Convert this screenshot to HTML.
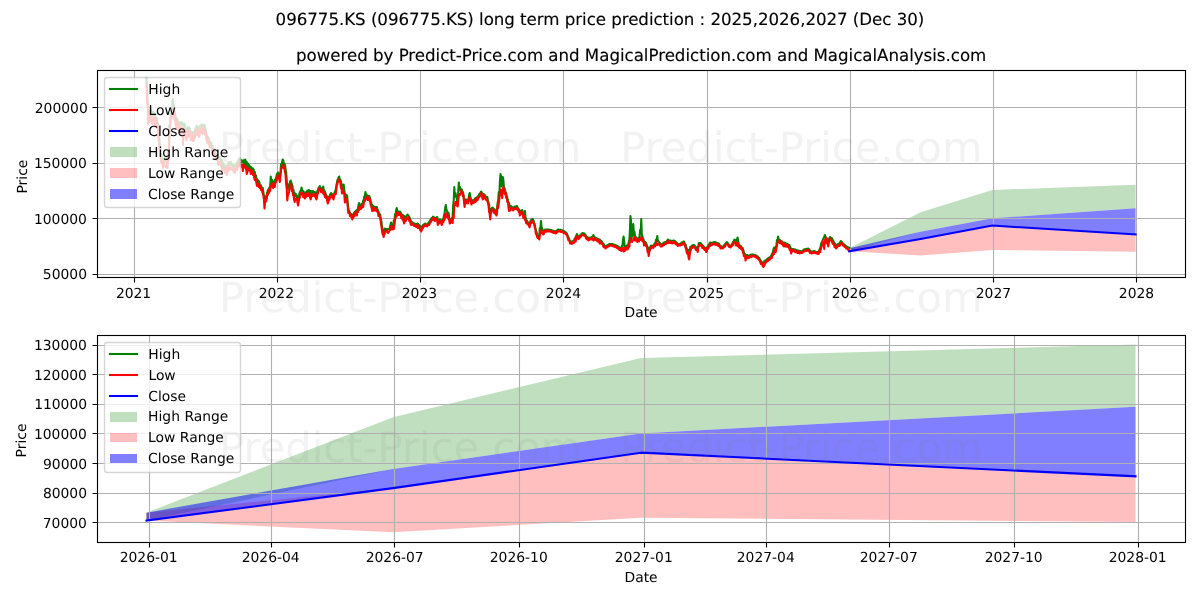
<!DOCTYPE html>
<html lang="en"><head><meta charset="utf-8"><title>096775.KS long term price prediction</title>
<style>html,body{margin:0;padding:0;background:#fff}body{width:1200px;height:600px;overflow:hidden}svg text{font-family:'DejaVu Sans', 'Liberation Sans', sans-serif;white-space:pre;text-rendering:geometricPrecision}</style>
</head><body>
<svg width="1200" height="600" viewBox="0 0 1200 600" font-family="'DejaVu Sans', 'Liberation Sans', sans-serif" style="display:block"><rect width="1200" height="600" fill="#fff"/>
<clipPath id="c1"><rect x="97.03" y="70.33" width="1087.97" height="206.56"/></clipPath>
<g clip-path="url(#c1)">
<path d="M849.26 248.18 L849.26 251.18 L920.63 231.71 L992.4 218.35 L1135.55 208.33 L1135.55 184.87 L1135.55 184.87 L992.4 189.97 L920.63 212.23 L849.26 248.18Z" fill="#008000" fill-opacity="0.25"/>
<path d="M849.26 248.18 L849.26 251.18 L920.63 255.59 L992.4 250.07 L1135.55 251.74 L1135.55 234.49 L1135.55 234.49 L992.4 225.58 L920.63 238.94 L849.26 248.18Z" fill="#ff0000" fill-opacity="0.25"/>
<path d="M849.26 248.18 L849.26 251.18 L920.63 238.94 L992.4 225.58 L1135.55 234.49 L1135.55 208.33 L1135.55 208.33 L992.4 218.35 L920.63 231.71 L849.26 248.18Z" fill="#0000ff" fill-opacity="0.5"/>
<path d="M134.5 70.33V276.89M277.5 70.33V276.89M420.5 70.33V276.89M563.5 70.33V276.89M707.5 70.33V276.89M850.5 70.33V276.89M993.5 70.33V276.89M1136.5 70.33V276.89M97.03 274.5H1185M97.03 218.5H1185M97.03 163.5H1185M97.03 107.5H1185" stroke="#b0b0b0" stroke-width="1.11" fill="none"/>
<path d="M146.5 78 L147.07 90 L147.64 99.34 L148.21 112 L148.78 112.05 L149.35 114 L149.92 112.1 L150.49 110 L151.06 109.85 L151.63 117.08 L152.2 114 L152.77 114.85 L153.34 112 L153.91 115.44 L154.48 112.77 L155.05 116 L155.62 116.11 L156.19 120.12 L156.76 118 L157.33 123.77 L157.9 122.92 L158.47 128 L159.04 135.14 L159.61 144.03 L160.18 145 L160.75 153.77 L161.32 155 L161.89 156.94 L162.46 158.11 L163.03 160 L163.6 158.78 L164.17 161.07 L164.74 158 L165.31 160.69 L165.88 160 L166.45 162.52 L167.02 156.67 L167.59 158 L168.16 151.31 L168.73 150 L169.3 125 L169.87 126.28 L170.44 114 L171.01 112.69 L171.58 110 L172.15 106.51 L172.72 99 L173.29 107.78 L173.86 105.06 L174.43 112 L175 112.26 L175.57 118.12 L176.14 118 L176.71 122.87 L177.28 119.02 L177.85 122 L178.42 121.92 L178.99 124.64 L179.56 124.5 L180.13 124 L180.7 122.22 L181.27 124.8 L181.84 122 L182.41 125.77 L182.98 126 L183.55 131.06 L184.12 123.32 L184.69 124 L185.26 128.26 L185.83 130.01 L186.4 130 L186.97 132.05 L187.54 127.27 L188.11 132.58 L188.68 127.22 L189.25 128 L189.82 128.57 L190.39 132.6 L190.96 132 L191.53 134.62 L192.1 131.93 L192.67 136.27 L193.24 133 L193.81 135.42 L194.38 131.96 L194.95 130 L195.52 128.28 L196.09 129.1 L196.66 125.52 L197.23 127 L197.8 127.06 L198.37 129.75 L198.94 128 L199.51 128.88 L200.08 125.6 L200.65 125.83 L201.22 125 L201.79 126.98 L202.36 124.38 L202.93 126 L203.5 125.97 L204.07 125.34 L204.64 125 L205.21 130.76 L205.78 129.42 L206.35 134 L206.92 136.43 L207.49 137.91 L208.06 136.91 L208.63 138 L209.2 141.12 L209.77 143.29 L210.34 142 L210.91 142.44 L211.48 144.29 L212.05 147.23 L212.62 146 L213.19 150.24 L213.76 148.91 L214.33 150 L214.9 149.99 L215.47 155.07 L216.04 155 L216.61 154 L217.18 154.52 L217.75 157.37 L218.32 159 L218.89 158.28 L219.46 159.28 L220.03 157 L220.6 159.12 L221.17 162.15 L221.74 160 L222.31 165.07 L222.88 163 L223.45 165.92 L224.02 164.21 L224.59 168.37 L225.16 166 L225.73 167.83 L226.3 166.62 L226.87 168 L227.44 165.09 L228.01 166.91 L228.58 162.06 L229.15 163 L229.72 164.51 L230.29 164.3 L230.86 162 L231.43 165.48 L232 164.98 L232.57 165.84 L233.14 164 L233.71 167.31 L234.28 166.44 L234.85 166 L235.42 165.25 L235.99 165.31 L236.56 162.85 L237.13 163 L237.7 161.62 L238.27 162.32 L238.84 159 L239.41 159.92 L239.98 157.98 L240.55 161.05 L241.12 160 L241.69 162.19 L242.26 160.7 L242.83 160.5 L243.4 160.51 L243.97 165.39 L244.54 160 L245.11 159.5 L245.68 160.65 L246.25 167.67 L246.82 162 L247.39 167.09 L247.96 163.49 L248.53 166.87 L249.1 165 L249.67 168.06 L250.24 166.52 L250.81 167 L251.38 167.51 L251.95 170.94 L252.52 168.48 L253.09 168.5 L253.66 169.96 L254.23 174.41 L254.8 172 L255.37 176.84 L255.94 175.48 L256.51 180.87 L257.08 179 L257.65 182.11 L258.22 180.45 L258.79 181 L259.36 182.19 L259.93 184.87 L260.5 184.83 L261.07 186 L261.64 186.97 L262.21 188 L262.78 188 L263.35 192.3 L263.92 195.64 L264.49 200 L265.06 198.89 L265.63 199.01 L266.2 196 L266.77 194.82 L267.34 192.17 L267.91 190 L268.48 189.32 L269.05 188.98 L269.62 187.12 L270.19 186 L270.76 176.5 L271.33 183.1 L271.9 179.74 L272.47 183.78 L273.04 183 L273.61 184.49 L274.18 181.48 L274.75 180 L275.32 179.28 L275.89 179.17 L276.46 176.01 L277.03 174 L277.6 173.14 L278.17 172.5 L278.74 174.68 L279.31 176.28 L279.88 178 L280.45 173.14 L281.02 164 L281.59 165.43 L282.16 161.69 L282.73 159.5 L283.3 160.53 L283.87 165.88 L284.44 163.5 L285.01 165 L285.58 169.35 L286.15 172 L286.72 179.88 L287.29 188 L287.86 187.04 L288.43 189.21 L289 184 L289.57 185.68 L290.14 181.48 L290.71 180.5 L291.28 182.38 L291.85 184 L292.42 185.73 L292.99 190.83 L293.56 189.97 L294.13 197.05 L294.7 193 L295.27 196.04 L295.84 194 L296.41 196.91 L296.98 195.74 L297.55 200.11 L298.12 197 L298.69 199.59 L299.26 194.16 L299.83 192 L300.4 191.02 L300.97 190.96 L301.54 187.5 L302.11 190.62 L302.68 190.56 L303.25 191 L303.82 191.98 L304.39 194.34 L304.96 193 L305.53 194.25 L306.1 191.97 L306.67 192.68 L307.24 190.5 L307.81 192.32 L308.38 190.5 L308.95 190 L309.52 190.48 L310.09 194.27 L310.66 191 L311.23 194.55 L311.8 191.23 L312.37 193.41 L312.94 191 L313.51 192.49 L314.08 191.8 L314.65 193.36 L315.22 192.27 L315.79 194.1 L316.36 192.5 L316.93 194.79 L317.5 190.7 L318.07 190.01 L318.64 187.9 L319.21 186.99 L319.78 186 L320.35 187.79 L320.92 189 L321.49 188.7 L322.06 188.07 L322.63 189.53 L323.2 186.5 L323.77 190.76 L324.34 190.41 L324.91 192 L325.48 193.11 L326.05 195.15 L326.62 195.59 L327.19 197.51 L327.76 198 L328.33 199.07 L328.9 196.63 L329.47 196.94 L330.04 194.72 L330.61 193.72 L331.18 193 L331.75 193.88 L332.32 194.26 L332.89 195.51 L333.46 195 L334.03 194.51 L334.6 192.32 L335.17 191.02 L335.74 190 L336.31 186.28 L336.88 183.28 L337.45 180 L338.02 178.85 L338.59 177.47 L339.16 176.5 L339.73 179.29 L340.3 179.62 L340.87 181 L341.44 183.38 L342.01 186 L342.58 185.89 L343.15 188.76 L343.72 184.5 L344.29 190.12 L344.86 194 L345.43 198.63 L346 194.79 L346.57 197.97 L347.14 195.5 L347.71 202.54 L348.28 208 L348.85 210.1 L349.42 211.3 L349.99 213 L350.56 213.73 L351.13 213.96 L351.7 214.55 L352.27 215 L352.84 214.68 L353.41 214.64 L353.98 212.81 L354.55 212 L355.12 211.59 L355.69 211.16 L356.26 210.5 L356.83 211 L357.4 209.45 L357.97 208.54 L358.54 205.04 L359.11 203 L359.68 204.05 L360.25 206.12 L360.82 206 L361.39 205.39 L361.96 203.8 L362.53 203.87 L363.1 201 L363.67 200.36 L364.24 196.6 L364.81 197.33 L365.38 192 L365.95 194.9 L366.52 194.32 L367.09 196.09 L367.66 196 L368.23 196.26 L368.8 196.21 L369.37 196 L369.94 198.04 L370.51 200.37 L371.08 202 L371.65 204.68 L372.22 205 L372.79 206.67 L373.36 205.91 L373.93 207.43 L374.5 206.99 L375.07 207 L375.64 207.24 L376.21 207.29 L376.78 207 L377.35 209.16 L377.92 210.19 L378.49 212 L379.06 213.18 L379.63 214.25 L380.2 214.5 L380.77 218.51 L381.34 221 L381.91 225.48 L382.48 230 L383.05 232.17 L383.62 232 L384.19 231.67 L384.76 228.5 L385.33 229.4 L385.9 229.07 L386.47 229 L387.04 229.22 L387.61 229.01 L388.18 229 L388.75 229.04 L389.32 229 L389.89 227.71 L390.46 224.97 L391.03 222.5 L391.6 224.6 L392.17 226.2 L392.74 227 L393.31 224.79 L393.88 220 L394.45 221.64 L395.02 214 L395.59 215.42 L396.16 209.73 L396.73 208 L397.3 210.39 L397.87 212 L398.44 212.16 L399.01 211.8 L399.58 211.7 L400.15 211.5 L400.72 213.04 L401.29 214 L401.86 214.42 L402.43 216.19 L403 215.26 L403.57 217.87 L404.14 216 L404.71 218.03 L405.28 216.88 L405.85 217 L406.42 216.36 L406.99 215.4 L407.56 214.5 L408.13 215.45 L408.7 216.06 L409.27 217 L409.84 218.07 L410.41 219.76 L410.98 221 L411.55 221.95 L412.12 222.13 L412.69 222.5 L413.26 222.88 L413.83 223.16 L414.4 223.5 L414.97 223.78 L415.54 224.07 L416.11 224 L416.68 224 L417.25 223.83 L417.82 223.5 L418.39 224.78 L418.96 224.81 L419.53 225.48 L420.1 226 L420.67 227.35 L421.24 227 L421.81 226.84 L422.38 226.21 L422.95 225 L423.52 224.95 L424.09 224.22 L424.66 224.07 L425.23 223.5 L425.8 223.9 L426.37 224.18 L426.94 224.5 L427.51 223.86 L428.08 223.27 L428.65 222.74 L429.22 222 L429.79 220.91 L430.36 220.12 L430.93 219 L431.5 218.4 L432.07 217.79 L432.64 217.24 L433.21 216.5 L433.78 217.26 L434.35 217.57 L434.92 218 L435.49 217.92 L436.06 217.75 L436.63 217.29 L437.2 217 L437.77 220 L438.34 220.1 L438.91 220.07 L439.48 219.75 L440.05 219.5 L440.62 220.11 L441.19 220.39 L441.76 221 L442.33 220.54 L442.9 219.56 L443.47 218 L444.04 215.38 L444.61 213 L445.18 207.92 L445.75 205 L446.32 208.5 L446.89 211 L447.46 211.77 L448.03 215.09 L448.61 213 L449.18 217.35 L449.75 220 L450.32 219.9 L450.89 219.3 L451.46 219.92 L452.03 217.79 L452.6 217 L453.17 205.91 L453.74 200 L454.31 187 L454.88 196.8 L455.45 192.94 L456.02 196 L456.59 197.82 L457.16 201.68 L457.73 200 L458.3 190 L458.87 182.5 L459.44 189.4 L460.01 187 L460.58 190.89 L461.15 189.15 L461.72 189.5 L462.29 190.94 L462.86 192 L463.43 194.3 L464 199.48 L464.57 199 L465.14 201.63 L465.71 199.66 L466.28 199.5 L466.85 199.99 L467.42 200.18 L467.99 200 L468.56 198.61 L469.13 194.78 L469.7 193 L470.27 195.98 L470.84 199.32 L471.41 200 L471.98 200.26 L472.55 200.18 L473.12 200.31 L473.69 200 L474.26 199.5 L474.83 198.83 L475.4 198 L475.97 197.93 L476.54 197.56 L477.11 197.34 L477.68 197 L478.25 195.92 L478.82 195.38 L479.39 194 L479.96 193.37 L480.53 192.54 L481.1 191.5 L481.67 192.4 L482.24 194.09 L482.81 193.5 L483.38 195.75 L483.95 194.4 L484.52 194.5 L485.09 195.47 L485.66 196.54 L486.23 197 L486.8 197.33 L487.37 197 L487.94 200.7 L488.51 202.36 L489.08 205 L489.65 209.64 L490.22 212 L490.79 209 L491.36 209.82 L491.93 208.16 L492.5 207.5 L493.07 208.17 L493.64 209.01 L494.21 209 L494.78 209.75 L495.35 210.31 L495.92 211.64 L496.49 211 L497.06 209.01 L497.63 202.95 L498.2 200 L498.77 192 L499.34 194.99 L499.91 181.49 L500.48 174 L501.05 175.95 L501.62 186.52 L502.19 179 L502.76 177 L503.33 179.49 L503.9 187.28 L504.47 188 L505.04 190.76 L505.61 191.97 L506.18 193 L506.75 195.67 L507.32 198 L507.89 199.55 L508.46 202.95 L509.03 203 L509.6 207.39 L510.17 206 L510.74 206 L511.31 206.62 L511.88 206.96 L512.45 207.78 L513.02 208 L513.59 207.56 L514.16 207.14 L514.73 206.5 L515.3 206.45 L515.87 206.66 L516.44 206.23 L517.01 206 L517.58 207.52 L518.15 208.62 L518.72 209 L519.29 210.42 L519.86 211 L520.43 210.89 L521 211.52 L521.57 210.45 L522.14 210 L522.71 211.57 L523.28 213 L523.85 212.78 L524.42 215.24 L524.99 211 L525.56 217.69 L526.13 219 L526.7 220.51 L527.27 221.5 L527.84 222.16 L528.41 222.88 L528.98 223.58 L529.55 224 L530.12 222.27 L530.69 220.46 L531.26 219.5 L531.83 219.62 L532.4 219.26 L532.97 219 L533.54 220.89 L534.11 222.69 L534.68 224 L535.25 227.36 L535.82 230 L536.39 231.65 L536.96 234.03 L537.53 236 L538.1 236.09 L538.67 236.15 L539.24 236 L539.81 228 L540.38 229.39 L540.95 221 L541.52 227.06 L542.09 228 L542.66 229.96 L543.23 231 L543.8 231.09 L544.37 230.51 L544.94 229.5 L545.51 229.5 L546.08 229.5 L546.65 229.5 L547.22 229.5 L547.79 229.5 L548.36 229.56 L548.93 229.65 L549.5 229.75 L550.07 229.84 L550.64 229.94 L551.21 230 L551.78 230.26 L552.35 230.45 L552.92 230.64 L553.49 230.83 L554.06 231 L554.63 231.15 L555.2 231.3 L555.77 231.5 L556.34 231.17 L556.91 230.6 L557.48 230.03 L558.05 229.5 L558.62 229.6 L559.19 229.7 L559.76 229.79 L560.33 229.89 L560.9 230 L561.47 230.15 L562.04 230.34 L562.61 230.53 L563.18 230.72 L563.75 231 L564.32 231.25 L564.89 231.7 L565.46 232.16 L566.03 232.62 L566.6 233 L567.17 234.32 L567.74 235.78 L568.31 237 L568.88 238.29 L569.45 239.51 L570.02 241 L570.59 241.29 L571.16 241.57 L571.73 242 L572.3 241.71 L572.87 241.14 L573.44 240.8 L574.01 240 L574.58 239.01 L575.15 238.03 L575.72 237 L576.29 235.79 L576.86 234 L577.43 235.22 L578 236.32 L578.57 237 L579.14 236.37 L579.71 235.8 L580.28 235 L580.85 234.66 L581.42 234.09 L581.99 233.52 L582.56 233 L583.13 233.15 L583.7 233.3 L584.27 233.5 L584.84 233.99 L585.41 234.85 L585.98 235.7 L586.55 236.5 L587.12 236.96 L587.69 237.38 L588.26 238 L588.83 237.94 L589.4 237.82 L589.97 237.71 L590.54 237.59 L591.11 237.5 L591.68 237.12 L592.25 236.65 L592.82 236.59 L593.39 235 L593.96 236.56 L594.53 236.92 L595.1 237.56 L595.67 238 L596.24 238.18 L596.81 238.68 L597.38 238.5 L597.95 238.99 L598.52 239.17 L599.09 239.4 L599.66 239.5 L600.23 240.21 L600.8 240.67 L601.37 241 L601.94 241.87 L602.51 242.73 L603.08 243.54 L603.65 244 L604.22 245 L604.79 245.6 L605.36 246.5 L605.93 246.18 L606.5 245.76 L607.07 245.33 L607.64 245 L608.21 244.65 L608.78 244.36 L609.35 244 L609.92 244 L610.49 244 L611.06 244 L611.63 244 L612.2 244 L612.77 244.25 L613.34 244.44 L613.91 244.63 L614.48 244.82 L615.05 245 L615.62 245.24 L616.19 245.47 L616.76 245.7 L617.33 246 L617.9 246.29 L618.47 246.72 L619.04 247.15 L619.61 247.5 L620.18 247.98 L620.75 248.02 L621.32 248 L621.89 245.87 L622.46 245.96 L623.03 239.5 L623.6 236.5 L624.17 241.33 L624.74 247 L625.31 247.11 L625.88 246.6 L626.45 245.89 L627.02 246.23 L627.59 245 L628.16 245.48 L628.73 242.28 L629.3 240 L629.87 231.62 L630.44 216 L631.01 220.71 L631.58 238.6 L632.15 230 L632.72 236.13 L633.29 224 L633.86 233.58 L634.43 231.65 L635 236 L635.57 236.91 L636.14 237.41 L636.71 238.13 L637.28 238.5 L637.85 238.6 L638.42 238.21 L638.99 238 L639.56 236.09 L640.13 230 L640.7 232.13 L641.27 219 L641.84 235.08 L642.41 236 L642.98 238.62 L643.55 239.57 L644.12 241 L644.69 241.82 L645.26 241.98 L645.83 242.5 L646.4 243.86 L646.97 245.69 L647.54 247 L648.11 249.44 L648.68 251 L649.25 248 L649.82 247.66 L650.39 246.87 L650.96 245.5 L651.53 245.72 L652.1 245.79 L652.67 245.89 L653.24 245.5 L653.81 244.79 L654.38 243.92 L654.95 243 L655.52 242.85 L656.09 239.53 L656.66 241.89 L657.23 236 L657.8 240.66 L658.37 241 L658.94 241.76 L659.51 242.55 L660.08 243.49 L660.65 244 L661.22 244.24 L661.79 244.5 L662.36 244.15 L662.93 243.58 L663.5 243.01 L664.07 242.5 L664.64 242.34 L665.21 242.2 L665.78 242 L666.35 241.57 L666.92 240.96 L667.49 240.19 L668.06 239.5 L668.63 240.13 L669.2 240.4 L669.77 240.5 L670.34 240.58 L670.91 240.72 L671.48 240.87 L672.05 241 L672.62 240.85 L673.19 240.7 L673.76 240.5 L674.33 240.74 L674.9 241.17 L675.47 241.59 L676.04 242 L676.61 242.6 L677.18 243.17 L677.75 244 L678.32 244 L678.89 244 L679.46 244 L680.03 244 L680.6 243.56 L681.17 243.13 L681.74 242.5 L682.31 242.35 L682.88 242.06 L683.45 241.78 L684.02 241.5 L684.59 243.09 L685.16 244.27 L685.73 245 L686.3 247.4 L686.87 249 L687.44 251.13 L688.01 249.9 L688.58 250 L689.15 251 L689.72 251.59 L690.29 247 L690.86 246.81 L691.43 246.31 L692 245.5 L692.57 245.36 L693.14 245.22 L693.71 245.07 L694.28 245 L694.85 245.93 L695.42 246.66 L695.99 247 L696.56 248.13 L697.13 248.89 L697.7 249 L698.27 246.32 L698.84 243 L699.41 243.08 L699.98 243.15 L700.55 243 L701.12 243.7 L701.69 244.39 L702.26 245 L702.83 245.58 L703.4 246.19 L703.97 247.04 L704.54 247.5 L705.11 247.79 L705.68 248.07 L706.25 248 L706.82 247.84 L707.39 246.91 L707.96 246.19 L708.53 245 L709.1 244.28 L709.67 243.23 L710.24 242.5 L710.81 242.83 L711.38 242.84 L711.95 243 L712.52 242.74 L713.09 242.46 L713.66 242.17 L714.23 242 L714.8 242.2 L715.37 242.34 L715.94 242.5 L716.51 242.7 L717.08 242.93 L717.65 243.16 L718.22 243.38 L718.79 243.5 L719.36 244.56 L719.93 245.27 L720.5 246 L721.07 246.22 L721.64 246.45 L722.21 246.68 L722.78 247 L723.35 246.49 L723.92 245.63 L724.49 244.78 L725.06 244 L725.63 243.38 L726.2 242.81 L726.77 242 L727.34 242.49 L727.91 243.35 L728.48 244.2 L729.05 245 L729.62 245.3 L730.19 245.59 L730.76 246 L731.33 245.36 L731.9 244.22 L732.47 243.16 L733.04 242 L733.61 241.26 L734.18 240.06 L734.75 239.5 L735.32 241.19 L735.89 242 L736.46 241.61 L737.03 239.2 L737.6 237.5 L738.17 240.9 L738.74 245 L739.31 245.29 L739.88 245.47 L740.45 246.02 L741.02 246 L741.59 247.08 L742.16 247.79 L742.73 248 L743.3 250.41 L743.87 252 L744.44 253.97 L745.01 254.03 L745.58 255 L746.15 255.18 L746.72 255.21 L747.29 255 L747.86 255.72 L748.43 255.71 L749 256 L749.57 255.58 L750.14 255.15 L750.71 254.72 L751.28 254.5 L751.85 254.5 L752.42 254.5 L752.99 254.5 L753.56 254.64 L754.13 254.78 L754.7 254.92 L755.27 255 L755.84 255.41 L756.41 255.7 L756.98 256 L757.55 256.54 L758.12 257.11 L758.69 257.68 L759.26 258 L759.83 259.36 L760.4 260.25 L760.97 261 L761.54 261.6 L762.11 262.44 L762.68 263 L763.25 263 L763.82 262.92 L764.39 261 L764.96 260.75 L765.53 260.63 L766.1 260 L766.67 259.5 L767.24 259.08 L767.81 258.5 L768.38 258.22 L768.95 257.79 L769.52 257.37 L770.09 257 L770.66 256.54 L771.23 255.7 L771.8 254.5 L772.37 253.28 L772.94 252.24 L773.51 249.26 L774.08 247.5 L774.65 247.49 L775.22 248.72 L775.79 247 L776.36 246.07 L776.93 240 L777.5 240.36 L778.07 236.5 L778.64 239.2 L779.21 239.67 L779.78 240 L780.35 240.72 L780.92 241.08 L781.49 241 L782.06 241.74 L782.63 242.14 L783.2 242.42 L783.77 242.5 L784.34 242.75 L784.91 242.86 L785.48 243 L786.05 243.66 L786.62 243.73 L787.19 244 L787.76 244 L788.33 244.78 L788.9 244.8 L789.47 245 L790.04 246.74 L790.61 248.11 L791.18 249 L791.75 249.15 L792.32 249 L792.89 249.08 L793.46 249.19 L794.03 249.3 L794.6 249.42 L795.17 249.5 L795.74 249.79 L796.31 250.02 L796.88 250.25 L797.45 250.5 L798.02 250.6 L798.59 250.72 L799.16 250.83 L799.73 251 L800.3 251.07 L800.87 251.21 L801.44 251.36 L802.01 251.5 L802.58 250.93 L803.15 250.36 L803.72 249.79 L804.29 249.5 L804.86 249.29 L805.43 249.14 L806 249 L806.57 248.89 L807.14 248.77 L807.71 248.66 L808.28 248.5 L808.85 248.95 L809.42 249.71 L809.99 250.5 L810.56 251.05 L811.13 251.62 L811.7 252 L812.27 251.7 L812.84 251.47 L813.41 251.24 L813.98 251 L814.55 251.27 L815.12 251.55 L815.69 251.84 L816.26 252 L816.83 252 L817.4 252 L817.97 252 L818.54 252 L819.11 250.43 L819.68 249.17 L820.25 248 L820.82 245.55 L821.39 243 L821.96 242.73 L822.53 240.55 L823.1 239 L823.67 237.94 L824.24 237 L824.81 235 L825.38 236.71 L825.95 237.26 L826.52 238 L827.09 238.97 L827.66 241.17 L828.23 240 L828.8 240.02 L829.37 238.02 L829.94 237 L830.51 237.55 L831.08 238.09 L831.65 238 L832.22 239.14 L832.79 240 L833.36 240.98 L833.93 242.06 L834.5 243 L835.07 243.81 L835.64 244.73 L836.21 245 L836.78 244.85 L837.35 244.5 L837.92 244.21 L838.49 243.99 L839.06 243.37 L839.63 243 L840.2 242.39 L840.77 241 L841.34 241.44 L841.91 242.2 L842.48 243 L843.05 243.54 L843.62 244.11 L844.19 244.68 L844.76 245 L845.33 245.61 L845.9 246.04 L846.47 246.5 L847.04 246.76 L847.61 247.26 L848.18 247.37 L848.75 247.5 L849.38 248" stroke="#008000" stroke-width="2.08" fill="none" stroke-linejoin="round" stroke-linecap="square"/>
<path d="M146.5 84 L147.07 104 L147.64 104.19 L148.21 124 L148.78 117.05 L149.35 122 L149.92 115.19 L150.49 117 L151.06 112.24 L151.63 122.16 L152.2 124 L152.77 119.38 L153.34 118 L153.91 119.67 L154.48 115.25 L155.05 126 L155.62 118.99 L156.19 124.4 L156.76 128 L157.33 127.9 L157.9 127.03 L158.47 140 L159.04 138.67 L159.61 150.48 L160.18 155 L160.75 158.09 L161.32 163 L161.89 162.62 L162.46 161.67 L163.03 168 L163.6 161.33 L164.17 165.29 L164.74 166 L165.31 165.79 L165.88 167 L166.45 167.52 L167.02 160.32 L167.59 168 L168.16 154.91 L168.73 160 L169.3 140 L169.87 131.26 L170.44 122 L171.01 117.63 L171.58 118 L172.15 113.68 L172.72 114 L173.29 116.24 L173.86 107.79 L174.43 120 L175 114.92 L175.57 123.51 L176.14 126 L176.71 128.81 L177.28 121.71 L177.85 130 L178.42 124.28 L178.99 128.88 L179.56 128.45 L180.13 134 L180.7 126.64 L181.27 130.03 L181.84 130 L182.41 131.95 L182.98 145 L183.55 137.21 L184.12 128.33 L184.69 132 L185.26 132.99 L185.83 135.3 L186.4 140 L186.97 135.35 L187.54 129.88 L188.11 136.78 L188.68 130.78 L189.25 136 L189.82 130.81 L190.39 136.8 L190.96 140 L191.53 139.81 L192.1 134.34 L192.67 140.79 L193.24 141 L193.81 140.91 L194.38 136.06 L194.95 138 L195.52 131.21 L196.09 133.82 L196.66 129.05 L197.23 135 L197.8 130.96 L198.37 135.06 L198.94 137 L199.51 135.34 L200.08 128.29 L200.65 130.27 L201.22 133 L201.79 132.92 L202.36 126.59 L202.93 134 L203.5 128.39 L204.07 129.41 L204.64 132 L205.21 135.11 L205.78 132.06 L206.35 140 L206.92 140 L207.49 142.67 L208.06 138.91 L208.63 144 L209.2 144.15 L209.77 147.19 L210.34 147 L210.91 146.23 L211.48 147.38 L212.05 152.32 L212.62 152 L213.19 154.4 L213.76 151.76 L214.33 155 L214.9 152 L215.47 159.38 L216.04 157.72 L216.61 160 L217.18 157.46 L217.75 160.56 L218.32 165 L218.89 162.12 L219.46 163.33 L220.03 164 L220.6 161.78 L221.17 166.7 L221.74 167 L222.31 169.27 L222.88 170 L223.45 170.26 L224.02 167.71 L224.59 172.06 L225.16 173 L225.73 173.16 L226.3 169.53 L226.87 175 L227.44 166.83 L228.01 170.95 L228.58 165.08 L229.15 170 L229.72 167.1 L230.29 168.52 L230.86 168 L231.43 169.47 L232 167.55 L232.57 170.29 L233.14 170 L233.71 172.14 L234.28 169.05 L234.85 173 L235.42 168.36 L235.99 170.26 L236.56 166.48 L237.13 170 L237.7 163.78 L238.27 166.93 L238.84 166 L239.41 163.69 L239.98 160.72 L240.55 165.04 L241.12 165 L241.69 166.89 L242.26 164.81 L242.83 171 L243.4 166.59 L243.97 167.83 L244.54 165.19 L245.11 167 L245.68 166.32 L246.25 170.07 L246.82 174 L247.39 172.41 L247.96 168.33 L248.53 170.27 L249.1 170 L249.67 170.38 L250.24 169.51 L250.81 174 L251.38 170.46 L251.95 173.57 L252.52 171.29 L253.09 175 L253.66 173.94 L254.23 177.83 L254.8 180 L255.37 180.23 L255.94 179.15 L256.51 183.76 L257.08 186 L257.65 185.63 L258.22 183.9 L258.79 187 L259.36 184.45 L259.93 187.83 L260.5 186.52 L261.07 190 L261.64 188.36 L262.21 191.74 L262.78 193 L263.35 195.62 L263.92 199.45 L264.49 208.5 L265.06 202.62 L265.63 201.66 L266.2 201 L266.77 198.63 L267.34 193.57 L267.91 195 L268.48 190.1 L269.05 192.88 L269.62 188.91 L270.19 191 L270.76 186 L271.33 185.19 L271.9 183.33 L272.47 186.41 L273.04 188 L273.61 186.42 L274.18 184.66 L274.75 187 L275.32 182.5 L275.89 182.63 L276.46 178.85 L277.03 180 L277.6 175.08 L278.17 177 L278.74 176.3 L279.31 179.27 L279.88 182 L280.45 176.01 L281.02 170 L281.59 168.43 L282.16 165.14 L282.73 167 L283.3 164.94 L283.87 168.36 L284.44 167.85 L285.01 172 L285.58 175.1 L286.15 184 L286.72 188.35 L287.29 200.5 L287.86 195.22 L288.43 194.47 L289 192 L289.57 188.4 L290.14 184.22 L290.71 186 L291.28 184.65 L291.85 191 L292.42 189.63 L292.99 195.21 L293.56 194.7 L294.13 199.44 L294.7 202 L295.27 199.22 L295.84 199 L296.41 199.96 L296.98 198.7 L297.55 203.14 L298.12 205.5 L298.69 201.97 L299.26 198.02 L299.83 198 L300.4 193.13 L300.97 193.45 L301.54 193 L302.11 194.58 L302.68 192.71 L303.25 197 L303.82 194.03 L304.39 197.9 L304.96 198.5 L305.53 197.53 L306.1 193.31 L306.67 196.36 L307.24 196 L307.81 194.66 L308.38 193.3 L308.95 196 L309.52 194.24 L310.09 197.88 L310.66 199.5 L311.23 197.23 L311.8 193.89 L312.37 195.71 L312.94 196 L313.51 195.18 L314.08 194.41 L314.65 196.38 L315.22 194.93 L315.79 197.56 L316.36 199.5 L316.93 197.66 L317.5 193.31 L318.07 193.26 L318.64 188.67 L319.21 190.01 L319.78 189 L320.35 190.23 L320.92 192 L321.49 192.13 L322.06 189.68 L322.63 192.27 L323.2 193 L323.77 194.31 L324.34 192.9 L324.91 197 L325.48 195.04 L326.05 198.01 L326.62 196.93 L327.19 201.03 L327.76 203.5 L328.33 202.55 L328.9 197.88 L329.47 199.85 L330.04 195.88 L330.61 197.58 L331.18 197 L331.75 197.14 L332.32 194.98 L332.89 197.9 L333.46 199.5 L334.03 197.19 L334.6 194.12 L335.17 194.36 L335.74 194 L336.31 189.72 L336.88 183.96 L337.45 184 L338.02 179.6 L338.59 180.45 L339.16 179.5 L339.73 181.76 L340.3 182.36 L340.87 188 L341.44 187.34 L342.01 193.5 L342.58 189.22 L343.15 192.41 L343.72 192 L344.29 193.86 L344.86 202.5 L345.43 201.17 L346 198.79 L346.57 199.96 L347.14 201 L347.71 206.39 L348.28 213 L348.85 212.53 L349.42 212.73 L349.99 216 L350.56 214.96 L351.13 217.08 L351.7 215.34 L352.27 219.5 L352.84 216.31 L353.41 217.54 L353.98 214.7 L354.55 216 L355.12 212.43 L355.69 213.58 L356.26 214 L356.83 215.5 L357.4 210.9 L357.97 212.08 L358.54 207.65 L359.11 210 L359.68 206.32 L360.25 208.44 L360.82 209 L361.39 208.54 L361.96 204.63 L362.53 206.96 L363.1 207 L363.67 203.85 L364.24 199.69 L364.81 201.17 L365.38 199 L365.95 198.82 L366.52 196.69 L367.09 198.94 L367.66 200 L368.23 199.74 L368.8 197.42 L369.37 200.5 L369.94 199.09 L370.51 203.86 L371.08 206 L371.65 208.06 L372.22 211 L372.79 209.88 L373.36 207.44 L373.93 210.58 L374.5 208.3 L375.07 210.5 L375.64 208.17 L376.21 210.38 L376.78 211.5 L377.35 211.44 L377.92 211.92 L378.49 216 L379.06 213.97 L379.63 216.86 L380.2 218 L380.77 221.87 L381.34 226 L381.91 229.27 L382.48 234 L383.05 234.59 L383.62 237 L384.19 234.77 L384.76 233.5 L385.33 231.84 L385.9 230.14 L386.47 231 L387.04 230.41 L387.61 232.43 L388.18 233 L388.75 231.97 L389.32 231 L389.89 230.54 L390.46 226.42 L391.03 229.5 L391.6 226.14 L392.17 229.46 L392.74 229.5 L393.31 228.32 L393.88 229 L394.45 224.82 L395.02 220 L395.59 217.42 L396.16 213.64 L396.73 216.5 L397.3 212 L397.87 215 L398.44 212.88 L399.01 214.85 L399.58 213.38 L400.15 215.5 L400.72 213.61 L401.29 218 L401.86 215.62 L402.43 219.55 L403 217.84 L403.57 221.51 L404.14 223.5 L404.71 221.5 L405.28 219.11 L405.85 221 L406.42 217.56 L406.99 219.01 L407.56 218.5 L408.13 218.76 L408.7 217.21 L409.27 221 L409.84 219.81 L410.41 223.18 L410.98 225 L411.55 224.19 L412.12 223.29 L412.69 225 L413.26 223.73 L413.83 225.3 L414.4 226 L414.97 225.82 L415.54 225.22 L416.11 227 L416.68 225.29 L417.25 226.61 L417.82 228 L418.39 227.16 L418.96 225.62 L419.53 228.49 L420.1 230 L420.67 230.54 L421.24 231.5 L421.81 229.89 L422.38 227.57 L422.95 228 L423.52 225.68 L424.09 226.55 L424.66 224.72 L425.23 226 L425.8 225.08 L426.37 226.11 L426.94 226.5 L427.51 225.67 L428.08 224.32 L428.65 225.25 L429.22 225 L429.79 223.43 L430.36 221.24 L430.93 222 L431.5 219.92 L432.07 220.27 L432.64 218.12 L433.21 219.5 L433.78 217.9 L434.35 220.41 L434.92 221 L435.49 220.28 L436.06 218.65 L436.63 219.78 L437.2 220 L437.77 225 L438.34 221.19 L438.91 223.59 L439.48 221.18 L440.05 222 L440.62 221.47 L441.19 223.66 L441.76 225 L442.33 223.35 L442.9 220.68 L443.47 222 L444.04 216.93 L444.61 220 L445.18 214.3 L445.75 215.5 L446.32 213.19 L446.89 217 L447.46 214.91 L448.03 217.63 L448.61 219 L449.18 219.93 L449.75 223.5 L450.32 222.93 L450.89 220.03 L451.46 221.85 L452.03 219.61 L452.6 223 L453.17 216.09 L453.74 218 L454.31 204.5 L454.88 204.14 L455.45 202.06 L456.02 205 L456.59 201.83 L457.16 206.02 L457.73 206.5 L458.3 200 L458.87 196 L459.44 194.19 L460.01 195 L460.58 192.99 L461.15 190.09 L461.72 193 L462.29 192.54 L462.86 196 L463.43 195.25 L464 202.24 L464.57 207 L465.14 203.96 L465.71 200.74 L466.28 203 L466.85 200.75 L467.42 202.77 L467.99 203.5 L468.56 201.74 L469.13 197.44 L469.7 200 L470.27 198.41 L470.84 201.88 L471.41 204.5 L471.98 203.12 L472.55 201.6 L473.12 202.66 L473.69 203 L474.26 202.09 L474.83 199.64 L475.4 202 L475.97 199.33 L476.54 200.86 L477.11 198.11 L477.68 200 L478.25 197.35 L478.82 197.5 L479.39 197 L479.96 196.09 L480.53 193.32 L481.1 195 L481.67 193.82 L482.24 197.57 L482.81 199.5 L483.38 198.46 L483.95 195.17 L484.52 198 L485.09 196.91 L485.66 199.5 L486.23 200 L486.8 199.62 L487.37 201 L487.94 203.36 L488.51 205.44 L489.08 212 L489.65 213.47 L490.22 219.5 L490.79 214 L491.36 212.09 L491.93 208.9 L492.5 210.5 L493.07 209.18 L493.64 211.65 L494.21 213 L494.78 213.4 L495.35 210.97 L495.92 214.34 L496.49 215.5 L497.06 212.62 L497.63 205.9 L498.2 208 L498.77 203 L499.34 199.69 L499.91 192.04 L500.48 190 L501.05 189.76 L501.62 194.62 L502.19 198 L502.76 189 L503.33 187.02 L503.9 190.02 L504.47 193 L505.04 194.31 L505.61 192.88 L506.18 198 L506.75 197.17 L507.32 202 L507.89 201.51 L508.46 206.88 L509.03 211 L509.6 209.67 L510.17 210.5 L510.74 210 L511.31 207.84 L511.88 209.38 L512.45 208.28 L513.02 210.5 L513.59 208.84 L514.16 209.19 L514.73 209 L515.3 208.89 L515.87 207.5 L516.44 208.47 L517.01 209 L517.58 210.03 L518.15 209.08 L518.72 212 L519.29 211.43 L519.86 215.5 L520.43 212.6 L521 213.64 L521.57 211.49 L522.14 214 L522.71 212.52 L523.28 218 L523.85 215.43 L524.42 218.04 L524.99 220 L525.56 220.34 L526.13 223 L526.7 222.75 L527.27 224 L527.84 224.46 L528.41 224.09 L528.98 225.82 L529.55 227.5 L530.12 225.12 L530.69 221.62 L531.26 223 L531.83 220.5 L532.4 222.1 L532.97 222 L533.54 223.26 L534.11 223.77 L534.68 227 L535.25 228.35 L535.82 234 L536.39 233.18 L536.96 236.41 L537.53 238 L538.1 238.11 L538.67 237.45 L539.24 239.5 L539.81 236 L540.38 233.26 L540.95 230 L541.52 231.23 L542.09 233 L542.66 233.55 L543.23 234.5 L543.8 233.94 L544.37 231.15 L544.94 232 L545.51 230.33 L546.08 231.75 L546.65 230.38 L547.22 231.42 L547.79 231.5 L548.36 231.48 L548.93 230.62 L549.5 231.39 L550.07 230.8 L550.64 231.54 L551.21 232 L551.78 232.1 L552.35 231.27 L552.92 232.63 L553.49 231.85 L554.06 233 L554.63 232.3 L555.2 232.93 L555.77 233.5 L556.34 233.14 L556.91 231.5 L557.48 231.92 L558.05 231.5 L558.62 231.4 L559.19 230.77 L559.76 231.46 L560.33 230.82 L560.9 232 L561.47 231.2 L562.04 231.99 L562.61 231.51 L563.18 232.72 L563.75 233 L564.32 233.16 L564.89 232.59 L565.46 233.93 L566.03 233.63 L566.6 235 L567.17 235.5 L567.74 237.94 L568.31 240 L568.88 240.72 L569.45 240.89 L570.02 243.5 L570.59 242.54 L571.16 243.55 L571.73 244 L572.3 243.47 L572.87 242.38 L573.44 243.04 L574.01 243 L574.58 242.03 L575.15 238.57 L575.72 241.5 L576.29 236.98 L576.86 238.5 L577.43 235.81 L578 238.14 L578.57 239 L579.14 238.44 L579.71 237.02 L580.28 237.5 L580.85 235.79 L581.42 236.22 L581.99 234.73 L582.56 235 L583.13 234.37 L583.7 235.24 L584.27 236 L584.84 236.07 L585.41 236.08 L585.98 238.14 L586.55 239 L587.12 239.28 L587.69 238.27 L588.26 240.5 L588.83 238.98 L589.4 239.84 L589.97 238.6 L590.54 239.52 L591.11 239.5 L591.68 239.5 L592.25 237.82 L592.82 239.52 L593.39 240.5 L593.96 239.8 L594.53 238.23 L595.1 239.71 L595.67 240 L596.24 240.11 L596.81 239.18 L597.38 241.5 L597.95 239.83 L598.52 241.61 L599.09 240.74 L599.66 243.5 L600.23 241.56 L600.8 243.49 L601.37 243.5 L601.94 243.91 L602.51 243.46 L603.08 245.56 L603.65 247 L604.22 247.29 L604.79 246.9 L605.36 248.5 L605.93 247.33 L606.5 247.66 L607.07 246.42 L607.64 247 L608.21 245.47 L608.78 246.25 L609.35 246 L609.92 245.73 L610.49 244.94 L611.06 245.59 L611.63 245.22 L612.2 246 L612.77 245.46 L613.34 246.37 L613.91 245.63 L614.48 246.76 L615.05 247 L615.62 247.21 L616.19 246.39 L616.76 247.72 L617.33 248.5 L617.9 248.45 L618.47 248.05 L619.04 249.41 L619.61 250 L620.18 249.85 L620.75 248.61 L621.32 251 L621.89 248.27 L622.46 250.15 L623.03 248.05 L623.6 251.5 L624.17 247.83 L624.74 251 L625.31 248.5 L625.88 249.88 L626.45 247.42 L627.02 248.62 L627.59 249.5 L628.16 248.35 L628.73 244.3 L629.3 247 L629.87 241.06 L630.44 241.5 L631.01 238 L631.58 241.58 L632.15 242 L632.72 240.4 L633.29 240 L633.86 239.13 L634.43 237.08 L635 240.5 L635.57 237.72 L636.14 240.73 L636.71 239.57 L637.28 242 L637.85 239.34 L638.42 241.07 L638.99 241.5 L639.56 239.47 L640.13 240 L640.7 237.89 L641.27 237 L641.84 238.49 L642.41 241 L642.98 241.73 L643.55 241.58 L644.12 245.5 L644.69 242.54 L645.26 244.6 L645.83 245 L646.4 246.7 L646.97 246.7 L647.54 252 L648.11 251.53 L648.68 256 L649.25 252 L649.82 250.72 L650.39 247.64 L650.96 248.5 L651.53 246.49 L652.1 247.65 L652.67 246.46 L653.24 248 L653.81 245.37 L654.38 246.51 L654.95 246.5 L655.52 245.48 L656.09 241.88 L656.66 244.95 L657.23 245 L657.8 243.78 L658.37 244.5 L658.94 244.58 L659.51 243.87 L660.08 245.44 L660.65 246.5 L661.22 246.4 L661.79 246.5 L662.36 245.98 L662.93 244.79 L663.5 245.13 L664.07 245 L664.64 244.3 L665.21 243.29 L665.78 244 L666.35 242.78 L666.92 243.36 L667.49 241.12 L668.06 243 L668.63 241.26 L669.2 242.6 L669.77 243 L670.34 243.04 L670.91 241.79 L671.48 242.96 L672.05 243.5 L672.62 242.93 L673.19 241.67 L673.76 243 L674.33 242.01 L674.9 243.32 L675.47 242.49 L676.04 244.5 L676.61 243.62 L677.18 245.1 L677.75 246 L678.32 245.83 L678.89 244.87 L679.46 245.36 L680.03 245.5 L680.6 245.26 L681.17 244.04 L681.74 245 L682.31 243.5 L682.88 244.52 L683.45 242.73 L684.02 244 L684.59 243.83 L685.16 246.88 L685.73 248 L686.3 250.04 L686.87 253 L687.44 253.78 L688.01 252.61 L688.58 258 L689.15 259.5 L689.72 255.2 L690.29 251 L690.86 249.96 L691.43 246.99 L692 248 L692.57 246.69 L693.14 247.23 L693.71 246.46 L694.28 247.5 L694.85 247.1 L695.42 248.81 L695.99 250 L696.56 250.19 L697.13 249.86 L697.7 252 L698.27 247.38 L698.84 246 L699.41 244.4 L699.98 245.58 L700.55 245.5 L701.12 245.75 L701.69 245.14 L702.26 248 L702.83 246.24 L703.4 248.71 L703.97 247.94 L704.54 250 L705.11 248.66 L705.68 250.58 L706.25 252 L706.82 251.38 L707.39 247.58 L707.96 248.91 L708.53 248 L709.1 246.38 L709.67 244.42 L710.24 246 L710.81 243.76 L711.38 245.3 L711.95 245 L712.52 244.43 L713.09 243.61 L713.66 244.03 L714.23 244.5 L714.8 244.46 L715.37 243.51 L715.94 245 L716.51 243.55 L717.08 245.15 L717.65 244.18 L718.22 245.78 L718.79 246 L719.36 246.7 L719.93 246.15 L720.5 248.5 L721.07 247.52 L721.64 248.18 L722.21 247.76 L722.78 248.5 L723.35 247.56 L723.92 247.39 L724.49 245.64 L725.06 246.5 L725.63 244.66 L726.2 244.59 L726.77 244 L727.34 244.18 L727.91 244.37 L728.48 246.18 L729.05 247 L729.62 246.9 L730.19 246.4 L730.76 247.5 L731.33 246.35 L731.9 246.02 L732.47 244.26 L733.04 245 L733.61 241.9 L734.18 242.23 L734.75 242 L735.32 243.23 L735.89 245.5 L736.46 244.49 L737.03 242.92 L737.6 246 L738.17 242.79 L738.74 247.5 L739.31 246.43 L739.88 247.99 L740.45 246.83 L741.02 249 L741.59 247.69 L742.16 250.1 L742.73 251 L743.3 253.2 L743.87 256 L744.44 256.21 L745.01 256.38 L745.58 260.5 L746.15 256.44 L746.72 258.4 L747.29 258 L747.86 257.61 L748.43 256.8 L749 258 L749.57 256.39 L750.14 257.24 L750.71 255.74 L751.28 257 L751.85 255.45 L752.42 256.5 L752.99 256.5 L753.56 256.43 L754.13 255.67 L754.7 256.85 L755.27 257 L755.84 257.31 L756.41 256.56 L756.98 258 L757.55 257.7 L758.12 259.13 L758.69 258.73 L759.26 260.5 L759.83 260.47 L760.4 262.62 L760.97 264 L761.54 264.01 L762.11 263.3 L762.68 266.24 L763.25 267 L763.82 266.15 L764.39 265.5 L764.96 263.85 L765.53 261.85 L766.1 262.5 L766.67 260.63 L767.24 261.36 L767.81 261 L768.38 260.25 L768.95 259.11 L769.52 259.61 L770.09 259.5 L770.66 258.54 L771.23 257.07 L771.8 258 L772.37 254.66 L772.94 255.22 L773.51 252.36 L774.08 254 L774.65 249.43 L775.22 252.07 L775.79 252 L776.36 248.51 L776.93 246 L777.5 242.76 L778.07 242 L778.64 241.38 L779.21 240.22 L779.78 243 L780.35 241.51 L780.92 243.03 L781.49 244 L782.06 244.17 L782.63 242.75 L783.2 245.74 L783.77 246.5 L784.34 245.83 L784.91 243.66 L785.48 246.5 L786.05 244.75 L786.62 246.68 L787.19 245.21 L787.76 247 L788.33 245.52 L788.9 247.62 L789.47 249 L790.04 250.38 L790.61 249.43 L791.18 253.5 L791.75 249.92 L792.32 251.5 L792.89 250.33 L793.46 251.22 L794.03 250.13 L794.6 251.55 L795.17 252 L795.74 252.11 L796.31 251.15 L796.88 252.43 L797.45 253 L798.02 253.01 L798.59 251.59 L799.16 252.88 L799.73 253.5 L800.3 252.92 L800.87 252.35 L801.44 253.06 L802.01 253 L802.58 252.54 L803.15 251.35 L803.72 251.41 L804.29 251.5 L804.86 251.15 L805.43 250.25 L806 251 L806.57 250.11 L807.14 250.71 L807.71 249.69 L808.28 251 L808.85 250 L809.42 251.72 L809.99 253 L810.56 253.1 L811.13 252.43 L811.7 253.5 L812.27 252.69 L812.84 253.09 L813.41 252.2 L813.98 253 L814.55 252.16 L815.12 253.02 L815.69 252.78 L816.26 253.5 L816.83 253.01 L817.4 253.76 L817.97 253.11 L818.54 254 L819.11 251.25 L819.68 251.88 L820.25 252 L820.82 249.12 L821.39 247 L821.96 245.68 L822.53 241.44 L823.1 244 L823.67 243.39 L824.24 249 L824.81 239.5 L825.38 240.35 L825.95 237.7 L826.52 243 L827.09 241.09 L827.66 244.34 L828.23 246.5 L828.8 243.52 L829.37 239.57 L829.94 240 L830.51 238.66 L831.08 240.53 L831.65 241 L832.22 242.38 L832.79 244 L833.36 243.88 L833.93 243.75 L834.5 247 L835.07 245.01 L835.64 247.83 L836.21 248.5 L836.78 247.21 L837.35 247 L837.92 246.53 L838.49 244.97 L839.06 246.03 L839.63 246 L840.2 244.51 L840.77 243 L841.34 243.38 L841.91 243.32 L842.48 245 L843.05 244.57 L843.62 246.05 L844.19 245.57 L844.76 247 L845.33 246.75 L845.9 247.95 L846.47 248.5 L847.04 248.68 L847.61 248.42 L848.18 250.01 L848.75 250.5 L849.38 251" stroke="#ff0000" stroke-width="2.08" fill="none" stroke-linejoin="round" stroke-linecap="square"/>
<path d="M849.26 251.18 L920.63 238.94 L992.4 225.58 L1135.55 234.49" stroke="#0000ff" stroke-width="2.08" fill="none" stroke-linejoin="round" stroke-linecap="square"/>
</g>
<path d="M134.5 277V282.5M277.5 277V282.5M420.5 277V282.5M563.5 277V282.5M707.5 277V282.5M850.5 277V282.5M993.5 277V282.5M1136.5 277V282.5M97 274.5H92.5M97 218.5H92.5M97 163.5H92.5M97 107.5H92.5" stroke="#000" stroke-width="1.11" fill="none"/>
<rect x="97.5" y="70.5" width="1088" height="207" fill="none" stroke="#000" stroke-width="1.11"/>
<text x="115.89" y="297.61" style="font-size:13.89px" id="a1x1">2021</text>
<text x="258.73" y="297.61" style="font-size:13.89px" id="a1x2">2022</text>
<text x="401.81" y="297.61" style="font-size:13.89px" id="a1x3">2023</text>
<text x="545.85" y="297.61" style="font-size:13.89px" id="a1x4">2024</text>
<text x="688.85" y="297.61" style="font-size:13.89px" id="a1x5">2025</text>
<text x="831.83" y="297.61" style="font-size:13.89px" id="a1x6">2026</text>
<text x="975.8" y="297.61" style="font-size:13.89px" id="a1x7">2027</text>
<text x="1118.84" y="297.61" style="font-size:13.89px" id="a1x8">2028</text>
<text x="42.85" y="278.5" style="font-size:13.89px" id="a1y1">50000</text>
<text x="33.93" y="223.85" style="font-size:13.89px" id="a1y2">100000</text>
<text x="33.95" y="168.2" style="font-size:13.89px" id="a1y3">150000</text>
<text x="34.77" y="112.55" style="font-size:13.89px" id="a1y4">200000</text>
<text x="624.46" y="317.17" style="font-size:13.89px" id="a1xl">Date</text>
<text transform="translate(26.96 193.55) rotate(-90)" style="font-size:13.89px" id="a1yl">Price</text>
<text x="296.01" y="61" style="font-size:16.67px" stroke="#000" stroke-width="0.12" id="a1t" textLength="690.32" lengthAdjust="spacing">powered by Predict-Price.com and MagicalPrediction.com and MagicalAnalysis.com</text>
<rect x="104.5" y="77.5" width="136" height="130" rx="2.78" fill="#fff" stroke="#ccc" stroke-width="1.39" opacity="0.8"/>
<path d="M108.95 89H138.05" stroke="#008000" stroke-width="2.08" fill="none"/>
<text x="148.32" y="93.83" style="font-size:13.89px" id="a1l0">High</text>
<path d="M108.95 110H138.05" stroke="#ff0000" stroke-width="2.08" fill="none"/>
<text x="148.46" y="114.78" style="font-size:13.89px" id="a1l1">Low</text>
<path d="M108.95 131H138.05" stroke="#0000ff" stroke-width="2.08" fill="none"/>
<text x="148.26" y="135.72" style="font-size:13.89px" id="a1l2">Close</text>
<rect x="110" y="147" width="27" height="10" fill="#008000" fill-opacity="0.25"/>
<text x="148.07" y="156.67" style="font-size:13.89px" id="a1l3">High Range</text>
<rect x="110" y="168" width="27" height="10" fill="#ff0000" fill-opacity="0.25"/>
<text x="148.09" y="177.61" style="font-size:13.89px" id="a1l4">Low Range</text>
<rect x="110" y="189" width="27" height="10" fill="#0000ff" fill-opacity="0.5"/>
<text x="148.1" y="198.56" style="font-size:13.89px" id="a1l5">Close Range</text>
<clipPath id="c2"><rect x="97.03" y="335.17" width="1087.97" height="206.56"/></clipPath>
<g clip-path="url(#c2)">
<path d="M146.48 512.64 L146.48 520.62 L393.07 468.91 L641.01 433.45 L1135.55 406.86 L1135.55 344.56 L1135.55 344.56 L641.01 358.1 L393.07 417.2 L146.48 512.64Z" fill="#008000" fill-opacity="0.25"/>
<path d="M146.48 512.64 L146.48 520.62 L393.07 532.33 L641.01 517.67 L1135.55 522.1 L1135.55 476.3 L1135.55 476.3 L641.01 452.66 L393.07 488.12 L146.48 512.64Z" fill="#ff0000" fill-opacity="0.25"/>
<path d="M146.48 512.64 L146.48 520.62 L393.07 488.12 L641.01 452.66 L1135.55 476.3 L1135.55 406.86 L1135.55 406.86 L641.01 433.45 L393.07 468.91 L146.48 512.64Z" fill="#0000ff" fill-opacity="0.5"/>
<path d="M149.5 335.17V541.72M271.5 335.17V541.72M394.5 335.17V541.72M519.5 335.17V541.72M644.5 335.17V541.72M766.5 335.17V541.72M889.5 335.17V541.72M1014.5 335.17V541.72M1138.5 335.17V541.72M97.03 522.5H1185M97.03 493.5H1185M97.03 463.5H1185M97.03 433.5H1185M97.03 404.5H1185M97.03 374.5H1185M97.03 345.5H1185" stroke="#b0b0b0" stroke-width="1.11" fill="none"/>
<path d="M146.48 520.62 L393.07 488.12 L641.01 452.66 L1135.55 476.3" stroke="#0000ff" stroke-width="2.08" fill="none" stroke-linejoin="round" stroke-linecap="square"/>
</g>
<path d="M149.5 542V547.5M271.5 542V547.5M394.5 542V547.5M519.5 542V547.5M644.5 542V547.5M766.5 542V547.5M889.5 542V547.5M1014.5 542V547.5M1138.5 542V547.5M97 522.5H92.5M97 493.5H92.5M97 463.5H92.5M97 433.5H92.5M97 404.5H92.5M97 374.5H92.5M97 345.5H92.5" stroke="#000" stroke-width="1.11" fill="none"/>
<rect x="97.5" y="335.5" width="1088" height="207" fill="none" stroke="#000" stroke-width="1.11"/>
<text x="119.67" y="562.44" style="font-size:13.89px" id="a2x0">2026-01</text>
<text x="241.68" y="562.44" style="font-size:13.89px" id="a2x1">2026-04</text>
<text x="365.73" y="562.44" style="font-size:13.89px" id="a2x2">2026-07</text>
<text x="489.79" y="562.44" style="font-size:13.89px" id="a2x3">2026-10</text>
<text x="614.78" y="562.44" style="font-size:13.89px" id="a2x4">2027-01</text>
<text x="736.77" y="562.44" style="font-size:13.89px" id="a2x5">2027-04</text>
<text x="859.76" y="562.44" style="font-size:13.89px" id="a2x6">2027-07</text>
<text x="984.73" y="562.44" style="font-size:13.89px" id="a2x7">2027-10</text>
<text x="1108.7" y="562.44" style="font-size:13.89px" id="a2x8">2028-01</text>
<text x="42.81" y="527.6" style="font-size:13.89px" id="a2y1">70000</text>
<text x="42.88" y="498.05" style="font-size:13.89px" id="a2y2">80000</text>
<text x="43.03" y="468.5" style="font-size:13.89px" id="a2y3">90000</text>
<text x="33.93" y="438.95" style="font-size:13.89px" id="a2y4">100000</text>
<text x="34.15" y="409.4" style="font-size:13.89px" id="a2y5">110000</text>
<text x="33.94" y="379.85" style="font-size:13.89px" id="a2y6">120000</text>
<text x="33.94" y="350.3" style="font-size:13.89px" id="a2y7">130000</text>
<text x="624.47" y="582" style="font-size:13.89px" id="a2xl">Date</text>
<text transform="translate(25.88 457.38) rotate(-90)" style="font-size:13.89px" id="a2yl">Price</text>
<rect x="104.5" y="342.5" width="136" height="130" rx="2.78" fill="#fff" stroke="#ccc" stroke-width="1.39" opacity="0.8"/>
<path d="M108.95 354H138.05" stroke="#008000" stroke-width="2.08" fill="none"/>
<text x="148.32" y="358.67" style="font-size:13.89px" id="a2l0">High</text>
<path d="M108.95 375H138.05" stroke="#ff0000" stroke-width="2.08" fill="none"/>
<text x="148.4" y="379.61" style="font-size:13.89px" id="a2l1">Low</text>
<path d="M108.95 396H138.05" stroke="#0000ff" stroke-width="2.08" fill="none"/>
<text x="148.25" y="400.56" style="font-size:13.89px" id="a2l2">Close</text>
<rect x="110" y="412" width="27" height="10" fill="#008000" fill-opacity="0.25"/>
<text x="148.08" y="420.5" style="font-size:13.89px" id="a2l3">High Range</text>
<rect x="110" y="433" width="27" height="9" fill="#ff0000" fill-opacity="0.25"/>
<text x="148.08" y="442.44" style="font-size:13.89px" id="a2l4">Low Range</text>
<rect x="110" y="454" width="27" height="9" fill="#0000ff" fill-opacity="0.5"/>
<text x="148.1" y="463.39" style="font-size:13.89px" id="a2l5">Close Range</text>
<text x="275.61" y="25" style="font-size:16.67px" stroke="#000" stroke-width="0.12" id="sup" textLength="648.68" lengthAdjust="spacing">096775.KS (096775.KS) long term price prediction : 2025,2026,2027 (Dec 30)</text>
<text x="219.06" y="162" style="font-size:41.67px" fill="#808080" fill-opacity="0.1" id="w1">Predict-Price.com</text>
<text x="620.26" y="162" style="font-size:41.67px" fill="#808080" fill-opacity="0.1" id="w2">Predict-Price.com</text>
<text x="219.06" y="312" style="font-size:41.67px" fill="#808080" fill-opacity="0.1" id="w3">Predict-Price.com</text>
<text x="620.26" y="312" style="font-size:41.67px" fill="#808080" fill-opacity="0.1" id="w4">Predict-Price.com</text>
<text x="219.06" y="462" style="font-size:41.67px" fill="#808080" fill-opacity="0.1" id="w5">Predict-Price.com</text>
<text x="620.26" y="462" style="font-size:41.67px" fill="#808080" fill-opacity="0.1" id="w6">Predict-Price.com</text></svg>
</body></html>
